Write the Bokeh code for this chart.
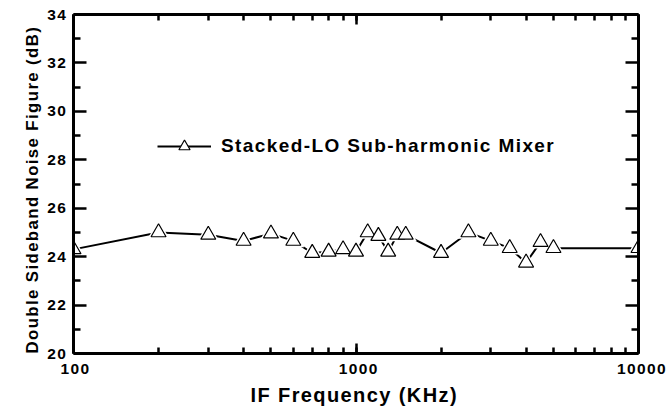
from bokeh.plotting import figure
from bokeh.models import (ColumnDataSource, LogAxis, LinearAxis, Legend, LegendItem,
                          FixedTicker, LogTicker, Range1d, PrintfTickFormatter,
                          InlineStyleSheet, Title)
from bokeh.embed import file_html
from bokeh.resources import INLINE

# IF frequency (kHz) and measured DSB noise figure (dB)
freq_khz = [100, 200, 300, 400, 500, 600, 700, 800, 900, 1000, 1100, 1200, 1300,
            1400, 1500, 2000, 2500, 3000, 3500, 4000, 4500, 5000, 10000]
noise_fig_db = [24.3, 25.0, 24.9, 24.65, 24.95, 24.65, 24.15, 24.2, 24.3, 24.2, 25.0,
                24.85, 24.2, 24.9, 24.9, 24.15, 25.0, 24.65, 24.35, 23.75, 24.6, 24.35, 24.35]
series_name = "Stacked-LO Sub-harmonic Mixer"
x_title = "IF Frequency (KHz)"
y_title = "Double Sideband Noise Figure (dB)"
y_ticks = [20, 22, 24, 26, 28, 30, 32, 34]

FONT = "Liberation Sans"

# wider tracking for all bold labels (inherited by the canvas text)
tracking = InlineStyleSheet(css=":host { letter-spacing: 1.4px; }")

src = ColumnDataSource(data=dict(f=freq_khz, nf=noise_fig_db))

p = figure(width=667, height=413, x_axis_type="log", output_backend="svg",
           toolbar_location=None, x_range=Range1d(100, 10000), y_range=Range1d(20, 34),
           min_border_left=73, min_border_right=29, min_border_top=14, min_border_bottom=60,
           background_fill_color="white", border_fill_color="white")
p.stylesheets = [tracking]
p.outline_line_color = None
p.grid.visible = False

line = p.line("f", "nf", source=src, line_color="black", line_width=2)
halo = p.scatter("f", "nf", source=src, marker="triangle", size=22,
                 fill_color="white", line_color=None)
tri = p.scatter("f", "nf", source=src, marker="triangle", size=15,
                fill_color="white", line_color="black", line_width=1.2)


def style_axis(ax, labels=True, major_len=10, minor_len=6):
    ax.axis_line_width = 3
    ax.axis_line_color = "black"
    ax.major_tick_in = major_len
    ax.major_tick_out = 0
    ax.minor_tick_in = minor_len
    ax.minor_tick_out = 0
    ax.major_tick_line_width = 2.5
    ax.minor_tick_line_width = 2.5
    ax.major_label_text_font = FONT
    ax.major_label_text_font_style = "bold"
    if labels:
        ax.major_label_text_color = "black"
        ax.major_label_text_font_size = "15.5px"
    else:
        ax.major_label_text_color = None
        ax.major_label_text_font_size = "1px"
        ax.major_label_standoff = 0


xax = p.xaxis[0]
xax.ticker = LogTicker(num_minor_ticks=10)
xax.formatter = PrintfTickFormatter(format="%d")
style_axis(xax, major_len=10, minor_len=6)
xax.major_label_standoff = 10

yax = p.yaxis[0]
yax.ticker = FixedTicker(ticks=y_ticks, minor_ticks=list(range(21, 34, 2)))
style_axis(yax, major_len=13, minor_len=7)
yax.major_label_standoff = 9
yax.major_label_orientation = "horizontal"

top = LogAxis(ticker=LogTicker(num_minor_ticks=10))
style_axis(top, labels=False, major_len=10, minor_len=6)
p.add_layout(top, "above")
right = LinearAxis(ticker=FixedTicker(ticks=y_ticks, minor_ticks=list(range(21, 34, 2))))
style_axis(right, labels=False, major_len=13, minor_len=7)
p.add_layout(right, "right")

# axis titles, anchored at their starting edge
p.add_layout(Title(text=x_title, align="left", offset=177, standoff=10,
                   text_font=FONT, text_font_style="bold", text_font_size="20px",
                   text_color="black"), "below")
p.add_layout(Title(text=y_title, align="left", offset=0, standoff=6,
                   text_font=FONT, text_font_style="bold", text_font_size="16.8px",
                   text_color="black"), "left")

legend = Legend(items=[LegendItem(label=series_name, renderers=[line, halo, tri])],
                location=(84, 193), border_line_color=None, background_fill_alpha=0,
                padding=0, margin=0, glyph_width=54, glyph_height=28, label_standoff=10,
                label_text_font=FONT, label_text_font_style="bold",
                label_text_font_size="19px", label_text_color="black")
p.add_layout(legend, "center")

open("out.html", "w").write(file_html(p, INLINE))
